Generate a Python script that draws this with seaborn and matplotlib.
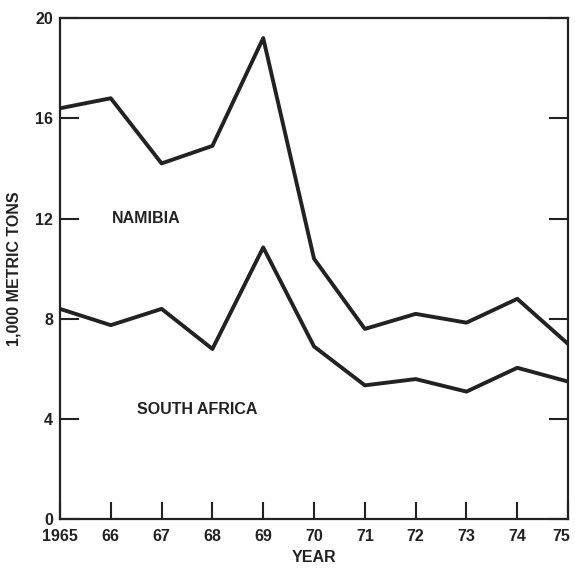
import matplotlib
matplotlib.use("Agg")
import matplotlib.pyplot as plt
import matplotlib.transforms as mtransforms
import seaborn as sns
import pandas as pd

# Annual output, thousands of metric tons
years = [1965, 1966, 1967, 1968, 1969, 1970, 1971, 1972, 1973, 1974, 1975]
total_namibia = [16.4, 16.8, 14.2, 14.9, 19.2, 10.4, 7.6, 8.2, 7.85, 8.8, 7.0]
south_africa = [8.4, 7.75, 8.4, 6.8, 10.85, 6.9, 5.35, 5.6, 5.1, 6.05, 5.5]

x_labels = ["1965", "66", "67", "68", "69", "70", "71", "72", "73", "74", "75"]
y_ticks = [0, 4, 8, 12, 16, 20]

df = pd.DataFrame({
    "year": years * 2,
    "value": total_namibia + south_africa,
    "series": ["upper"] * len(years) + ["lower"] * len(years),
})

sns.set_style("white")
plt.rcParams["font.family"] = ["Liberation Sans", "DejaVu Sans"]
plt.rcParams["font.weight"] = "bold"

ink = "#222222"
fig = plt.figure(figsize=(5.75, 5.68), dpi=100)
ax = fig.add_axes([0.1043, 0.0854, 0.8837, 0.8829])

sns.lineplot(data=df, x="year", y="value", units="series", estimator=None,
             color=ink, linewidth=2.8, ax=ax, legend=False)

ax.set_xlim(1965, 1975)
ax.set_ylim(0, 20)
ax.set_xticks(years)
ax.set_xticklabels(x_labels)
ax.set_yticks(y_ticks)
ax.set_yticklabels([str(v) for v in y_ticks])

for s in ax.spines.values():
    s.set_visible(True)
    s.set_color(ink)
    s.set_linewidth(1.6)

ax.tick_params(axis="y", direction="in", left=True, right=True, length=14,
               width=1.5, color=ink, pad=5, labelsize=11.5, labelcolor=ink)
ax.tick_params(axis="x", direction="in", bottom=True, length=12,
               width=1.5, color=ink, pad=7, labelsize=11.5, labelcolor=ink)
for lbl in ax.get_xticklabels() + ax.get_yticklabels():
    lbl.set_fontweight("bold")

# keep the final year label inside the figure edge
last = ax.get_xticklabels()[-1]
last.set_transform(last.get_transform() +
                   mtransforms.ScaledTranslation(-5 / 72, 0, fig.dpi_scale_trans))

ax.set_xlabel("YEAR", fontsize=11.5, fontweight="bold", color=ink, labelpad=4)
ax.set_ylabel("1,000 METRIC TONS", fontsize=11.5, fontweight="bold", color=ink, labelpad=10)

ax.text(1966.7, 12, "NAMIBIA", ha="center", va="center",
        fontsize=11.5, fontweight="bold", color=ink)
ax.text(1967.7, 4.4, "SOUTH AFRICA", ha="center", va="center",
        fontsize=11.5, fontweight="bold", color=ink)

fig.savefig("out.png", dpi=100)
